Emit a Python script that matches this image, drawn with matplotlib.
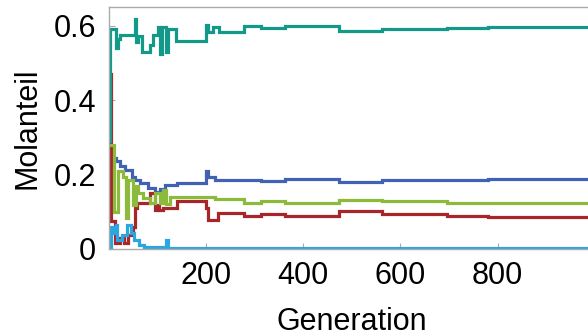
import matplotlib
matplotlib.use("Agg")
import matplotlib.pyplot as plt

# ---- data (step series: generation at which a value starts, value) ----
teal_gen = [0, 3, 15, 19, 23, 54, 57, 60, 69, 85, 92, 102, 106, 109, 117, 121, 138,
            201, 204, 214, 227, 278, 313, 363, 474, 561, 695, 780, 942, 1000]
teal_val = [0.29, 0.592, 0.54, 0.565, 0.576, 0.62, 0.557, 0.572, 0.53, 0.55, 0.576,
            0.597, 0.525, 0.597, 0.53, 0.592, 0.559, 0.603, 0.585, 0.597, 0.585,
            0.599, 0.595, 0.600, 0.586, 0.592, 0.595, 0.598, 0.597, 0.597]

blue_gen = [0, 5, 16, 23, 33, 47, 54, 65, 80, 95, 105, 116, 140, 201, 204, 218,
            278, 313, 363, 474, 561, 695, 780, 1000]
blue_val = [0.25, 0.245, 0.236, 0.224, 0.213, 0.195, 0.185, 0.178, 0.165, 0.152,
            0.162, 0.173, 0.178, 0.209, 0.195, 0.186, 0.186, 0.184, 0.188, 0.181,
            0.185, 0.186, 0.188, 0.188]

green_gen = [0, 11, 20, 30, 36, 40, 50, 56, 61, 71, 85, 95, 106, 112, 118, 126,
             201, 218, 278, 313, 363, 474, 561, 695, 780, 1000]
green_val = [0.28, 0.10, 0.209, 0.195, 0.084, 0.186, 0.119, 0.17, 0.151, 0.138,
             0.124, 0.151, 0.125, 0.16, 0.12, 0.141, 0.14, 0.134, 0.125, 0.128,
             0.123, 0.132, 0.128, 0.125, 0.123, 0.123]

red_gen = [0, 4, 13, 23, 31, 40, 50, 54, 58, 85, 96, 100, 104, 111, 140, 201, 204,
           225, 278, 313, 363, 474, 561, 695, 780, 1000]
red_val = [0.47, 0.074, 0.016, 0.03, 0.016, 0.038, 0.06, 0.11, 0.124, 0.151, 0.105,
           0.119, 0.105, 0.11, 0.128, 0.11, 0.078, 0.097, 0.089, 0.094, 0.089,
           0.101, 0.094, 0.09, 0.087, 0.087]

cyan_gen = [0, 5, 9, 14, 18, 27, 38, 45, 52, 62, 72, 118, 121, 200, 1000]
cyan_val = [0.0, 0.06, 0.043, 0.065, 0.024, 0.038, 0.065, 0.043, 0.024, 0.011,
            0.006, 0.024, 0.003, 0.002, 0.002]

x_ticks = [200, 400, 600, 800]
y_ticks = [0, 0.2, 0.4, 0.6]
y_tick_labels = ["0", "0.2", "0.4", "0.6"]

# ---- style ----
plt.rcParams['font.family'] = ['Liberation Sans', 'DejaVu Sans']
FS = 22
LW = 2.3
frame_col = "#aaaaaa"

fig = plt.figure(figsize=(5.88, 3.36), dpi=100)
ax = fig.add_axes([108.7 / 588, 87 / 336, 486.3 / 588, 242 / 336])

series = [
    (blue_gen, blue_val, "#3f62b3"),
    (red_gen, red_val, "#a8262a"),
    (green_gen, green_val, "#8cba3a"),
    (teal_gen, teal_val, "#12998a"),
    (cyan_gen, cyan_val, "#2aa7e0"),
]
for g, v, c in series:
    ax.plot(g, v, drawstyle="steps-post", color=c, lw=LW, solid_joinstyle="miter",
            clip_on=True)

ax.set_xlim(0, 1000)
ax.set_ylim(0, 0.651)
ax.set_xticks(x_ticks)
ax.set_yticks(y_ticks)
ax.set_yticklabels(y_tick_labels)
ax.tick_params(direction="in", length=4, width=0.8, color=frame_col,
               labelsize=FS, pad=9)
for s in ax.spines.values():
    s.set_color(frame_col)
    s.set_linewidth(1.0)

ax.set_xlabel("Generation", fontsize=FS, labelpad=11)
ax.set_ylabel("Molanteil", fontsize=FS, labelpad=8)

fig.savefig("out.png", dpi=100)
